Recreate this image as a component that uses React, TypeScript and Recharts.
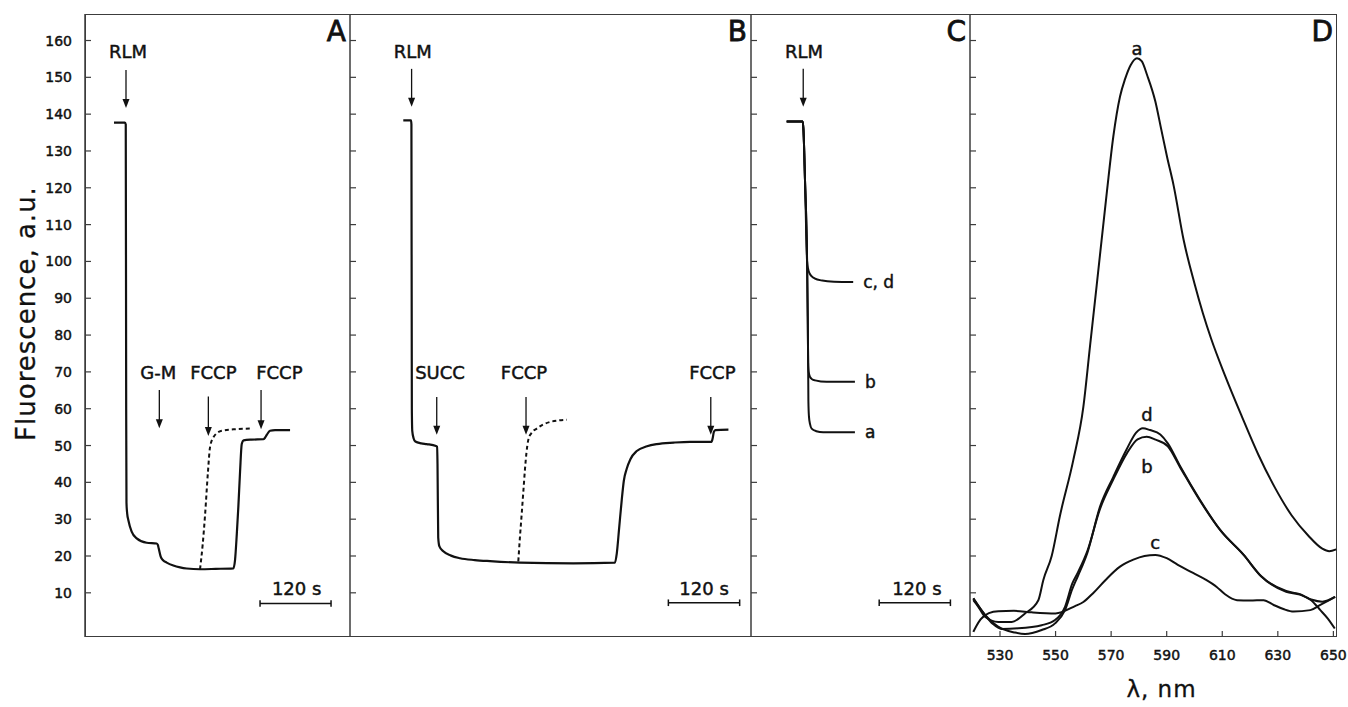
import React from 'react';
import { LineChart, Line, XAxis, YAxis, ReferenceLine, ReferenceDot } from 'recharts';

const INK = '#111';
const FRAME = '#3c3c3c';
const FONT = '"DejaVu Sans", Verdana, sans-serif';

// shared fluorescence scale (a.u.)
const fluorDomain = [-2, 167.2];
const fluorTicks = [10, 20, 30, 40, 50, 60, 70, 80, 90, 100, 110, 120, 130, 140, 150, 160];

// time axes of the kinetic panels, seconds
const timeDomainA = [0, 446];
const timeDomainB = [0, 675];
const timeDomainC = [0, 369];

// panel A: [t, fluorescence]
const traceA = [
  [48.8, 137.7], [67.3, 137.7], [68.6, 137.2], [69.3, 60], [69.8, 34.5], [71, 31.5], [72.9, 29.8],
  [78.5, 26.6], [87, 24.8], [103.9, 23.6], [120.7, 23.4], [122.6, 23.0], [124, 22.1], [127.4, 19.8],
  [131, 18.9], [137.5, 18.2], [148.7, 17.4], [160, 16.9], [171.2, 16.6], [193.6, 16.4], [220, 16.5],
  [249.7, 16.65], [252.5, 18.9], [255.5, 26], [258.1, 33.4], [261, 43], [263.8, 50.4], [267, 51.4],
  [280, 51.6], [300.2, 51.7], [302.5, 52.0], [305.9, 52.9], [311.4, 54.0], [320, 54.2], [345.1, 54.2],
];
const dashedA = [
  [193.6, 16.4], [198, 23], [202, 31], [207, 43], [210.4, 49.5], [216.7, 52.4], [230, 54.0], [250, 54.4], [277.8, 54.6],
];

// panel B
const traceB = [
  [89.7, 138.3], [102.7, 138.3], [103.4, 137.2], [104.1, 60], [104.8, 54], [107, 52], [110, 51.1],
  [120, 50.6], [129.1, 50.4], [144.8, 49.9], [146.5, 49.7], [147.3, 45], [148.5, 25], [150.5, 22.6],
  [157, 21.3], [170, 20.1], [185.2, 19.4], [210, 18.9], [235.7, 18.6], [286.2, 18.2], [375.9, 18.0],
  [446.1, 18.2], [449, 20.6], [453, 27.5], [457.4, 35.2], [461, 40.5], [465.8, 43.7], [472, 46.3],
  [482.7, 48.5], [500, 49.8], [516.3, 50.4], [545, 50.8], [572.4, 51.0], [608.5, 51.0], [610.5, 52.0],
  [612.5, 53.7], [615, 54.2], [637, 54.3],
];
const dashedB = [
  [283.3, 18.5], [286, 25], [289.1, 31.6], [292, 38], [294.6, 43.7], [297, 48], [300.2, 51.6],
  [305, 53.3], [314.3, 54.6], [325, 55.7], [336.7, 56.4], [350, 56.8], [364.8, 57.0],
];

// panel C
const traceCcd = [
  [60.1, 138], [87, 138], [88.3, 136], [91, 122], [94.5, 100], [96.2, 98], [98.5, 96.8], [102, 96],
  [107, 95.4], [120, 94.8], [140, 94.5], [172.2, 94.4],
];
const traceCb = [
  [60.1, 138], [87, 138], [88.3, 136], [91, 122], [94.5, 100], [95.6, 85], [96.3, 72.5], [97.2, 70],
  [99.5, 68.6], [103, 68.0], [108, 67.7], [127.4, 67.3], [175.1, 67.3],
];
const traceCa = [
  [60.1, 138], [87, 138], [88.3, 136], [91, 122], [94.5, 100], [95.6, 85], [96.3, 72.5], [96.7, 62],
  [97.6, 58], [99.5, 55.8], [102.2, 54.6], [110, 53.9], [121.7, 53.6], [175.1, 53.6],
];

// panel D: emission spectra [nm, fluorescence]
const wavelengthDomain = [519.2, 651.3];
const wavelengthTicks = [530, 550, 570, 590, 610, 630, 650];
const spectrumA = [
  [520.4, 8.0], [522.2, 6.2], [524.6, 3.5], [529.4, 2.1], [534.2, 2.1], [539, 4.4], [543.8, 8.0],
  [545.6, 13.5], [548.6, 20], [551.6, 31], [556.4, 46.1], [560, 60.5], [562.4, 77], [564.8, 93.5],
  [568.4, 118.4], [570.8, 134], [573.2, 144.8], [575, 149.5], [577, 153.3], [579.3, 155.2],
  [581, 154.4], [583, 150.5], [585.9, 143.5], [588, 136], [590.1, 128.5], [592.5, 120.6],
  [596.1, 105.8], [600, 94], [603, 86], [606, 79], [611, 69], [617, 58], [623, 47.5], [629, 38.5],
  [635, 31], [641, 25.5], [646, 22], [648.5, 21.3], [651, 21.8],
];
const spectrumB = [
  [520.4, 8.5], [524.6, 4.0], [527.5, 1.5], [530.6, 0.2], [536.5, 0.35], [545, 1.2], [549.8, 2.6],
  [553.4, 6.2], [556, 12.5], [558, 15.5], [561.5, 21.5], [566, 32.8], [570.8, 40.8], [575.6, 47.8],
  [579.5, 51.7], [582.8, 52.4], [586, 51.6], [590.4, 49.8], [594.9, 44.0], [602, 35.0], [609.3, 27],
  [617.7, 20.3], [624, 14.5], [633, 10.5], [638, 9.6], [642, 8.2], [646, 7.6], [650.5, 8.9],
];
const spectrumC = [
  [520.4, -0.6], [521.5, 1], [523, 2.8], [526, 4.5], [529.4, 5.0], [535, 5.1], [541.4, 4.7], [550, 4.4],
  [557, 6.4], [560, 7.5], [563.5, 9.9], [568, 13.5], [573.2, 17.1], [578, 19], [582, 20], [585.9, 20.3],
  [590, 19.4], [594, 17.6], [599.5, 15.4], [604, 13.6], [608, 11.6], [611, 9.6], [615.3, 8.0], [620, 7.9],
  [624.9, 8.0], [628.5, 6.7], [632, 5.6], [635.7, 4.9], [641.7, 5.3], [645.3, 6.7], [650.7, 8.9],
];
const spectrumD = [
  [520.4, 8.5], [524.6, 4.0], [529.3, 0.8], [535.4, -0.8], [539, -1.2], [545, -0.1], [549.8, 1.7],
  [553.4, 5.3], [556, 11], [558, 14.5], [561.5, 21], [566, 33.4], [570.8, 41.5], [575.6, 49], [579, 53.5],
  [581.4, 54.7], [584, 54.2], [587.7, 53], [590.4, 50.6], [594.9, 44.3], [602, 35.2], [609.3, 27],
  [617.7, 20.3], [624, 14.5], [633, 10.3], [638, 9.5], [642, 8], [645.3, 5.3], [648, 3], [650.5, 0.3],
];

// additions: time of addition, arrow tip / tail level, label anchor
const additionsA = [
  { text: 'RLM', t: 69, tip: 141.7, tail: 152, labelT: 72.4, labelV: 157 },
  { text: 'G-M', t: 125.1, tip: 54.7, tail: 65.1, labelT: 123.4, labelV: 69.8 },
  { text: 'FCCP', t: 207.6, tip: 52.6, tail: 63.3, labelT: 216, labelV: 69.8 },
  { text: 'FCCP', t: 296.3, tip: 54.4, tail: 65.1, labelT: 327.1, labelV: 69.8 },
];
const additionsB = [
  { text: 'RLM', t: 103.7, tip: 142, tail: 152.3, labelT: 105.6, labelV: 157 },
  { text: 'SUCC', t: 146, tip: 52.9, tail: 63.2, labelT: 151.5, labelV: 69.8 },
  { text: 'FCCP', t: 296.3, tip: 52.9, tail: 63.2, labelT: 292.9, labelV: 69.8 },
  { text: 'FCCP', t: 607.3, tip: 52.9, tail: 63.2, labelT: 609.9, labelV: 69.8 },
];
const additionsC = [
  { text: 'RLM', t: 88, tip: 142, tail: 152.3, labelT: 89.2, labelV: 157 },
];

// 120 s scale bars
const scaleBarA = { t0: 294.6, t1: 414.1, v: 7.1, labelT: 356.2, labelV: 11.2 };
const scaleBarB = { t0: 535.9, t1: 655.9, v: 7.3, labelT: 596, labelV: 11.3 };
const scaleBarC = { t0: 216, t1: 336, v: 7.3, labelT: 279.5, labelV: 11.3 };

// curve labels
const curveLabelsC = [
  { text: 'c, d', t: 172.2, v: 94.4 },
  { text: 'b', t: 175.1, v: 67.3 },
  { text: 'a', t: 175.1, v: 53.6 },
];
const curveLabelsD = [
  { text: 'a', nm: 579.3, v: 157.7 },
  { text: 'd', nm: 582.9, v: 58.3 },
  { text: 'b', nm: 582.9, v: 44.3 },
  { text: 'c', nm: 585.9, v: 23.6 },
];

const toPts = (rows: number[][]) => rows.map(([t, v]) => ({ t, v }));

const textStyle = { fontFamily: FONT, fill: INK, stroke: INK, strokeWidth: 0.45 };

const YTickLabeled = ({ x, y, payload }: any) => (
  <g>
    <line x1={x} x2={x + 6} y1={y} y2={y} stroke={FRAME} strokeWidth={1.2} />
    <text x={x - 13} y={y} textAnchor="end" dominantBaseline="central" fontSize={14} {...textStyle}>
      {payload.value}
    </text>
  </g>
);
const YTickMark = ({ x, y }: any) => (
  <line x1={x} x2={x + 6} y1={y} y2={y} stroke={FRAME} strokeWidth={1.2} />
);
const XTickNm = ({ x, y, payload }: any) => (
  <g>
    <line x1={x} x2={x} y1={y} y2={y - 6} stroke={FRAME} strokeWidth={1.2} />
    <text x={x} y={y + 18} textAnchor="middle" dominantBaseline="central" fontSize={14} {...textStyle}>
      {payload.value}
    </text>
  </g>
);

const YTitle = (props: any) => {
  const vb = props.viewBox || { x: 0, y: 14, width: 85, height: 623 };
  const cx = 26;
  const cy = vb.y + vb.height / 2 - 12;
  return (
    <text x={cx} y={cy} transform={`rotate(-90 ${cx} ${cy})`} textAnchor="middle" dominantBaseline="central"
      fontSize={26} letterSpacing={1} {...textStyle} strokeWidth={0.3}>
      Fluorescence, a.u.
    </text>
  );
};
const XTitle = (props: any) => {
  const vb = props.viewBox || { x: 970, y: 637, width: 367, height: 70 };
  return (
    <text x={vb.x + vb.width / 2 + 8} y={vb.y + vb.height - 10} textAnchor="middle" fontSize={23} letterSpacing={1}
      {...textStyle} strokeWidth={0.3}>
      λ, nm
    </text>
  );
};

const textAt = (text: string, size: number, anchor: string, dx = 0, dy = 0) => (p: any) => (
  <text x={p.cx + dx} y={p.cy + dy} textAnchor={anchor} dominantBaseline="central" fontSize={size} {...textStyle}>
    {text}
  </text>
);

const ArrowHead = (p: any) => (
  <path d={`M${p.cx},${p.cy} L${p.cx - 3.5},${p.cy - 9} L${p.cx + 3.5},${p.cy - 9} Z`} fill={INK} />
);

const additionMarks = (list: typeof additionsA, key: string) =>
  list.flatMap((a, i) => [
    <ReferenceLine key={`${key}s${i}`} segment={[{ x: a.t, y: a.tail }, { x: a.t, y: a.tip + 1.5 }]}
      stroke={INK} strokeWidth={1.3} ifOverflow="visible" />,
    <ReferenceDot key={`${key}h${i}`} x={a.t} y={a.tip} r={1} ifOverflow="visible" shape={ArrowHead} />,
    <ReferenceDot key={`${key}l${i}`} x={a.labelT} y={a.labelV} r={1} ifOverflow="visible"
      shape={textAt(a.text, 18, 'middle')} />,
  ]);

const scaleBarMarks = (b: typeof scaleBarA, key: string) => [
  <ReferenceLine key={`${key}m`} segment={[{ x: b.t0, y: b.v }, { x: b.t1, y: b.v }]} stroke={INK}
    strokeWidth={1.5} ifOverflow="visible" />,
  <ReferenceLine key={`${key}l`} segment={[{ x: b.t0, y: b.v - 0.9 }, { x: b.t0, y: b.v + 0.9 }]} stroke={INK}
    strokeWidth={1.5} ifOverflow="visible" />,
  <ReferenceLine key={`${key}r`} segment={[{ x: b.t1, y: b.v - 0.9 }, { x: b.t1, y: b.v + 0.9 }]} stroke={INK}
    strokeWidth={1.5} ifOverflow="visible" />,
  <ReferenceDot key={`${key}t`} x={b.labelT} y={b.labelV} r={1} ifOverflow="visible"
    shape={textAt('120 s', 18, 'middle')} />,
];

const panelLetter = (letter: string, xMax: number) => (
  <ReferenceDot key={`letter${letter}`} x={xMax} y={fluorDomain[1]} r={1} ifOverflow="visible"
    shape={(p: any) => (
      <text x={p.cx - 4} y={p.cy + 27} textAnchor="end" fontSize={28} {...textStyle} strokeWidth={0.8}>{letter}</text>
    )} />
);

const H = 707;
const MARGIN = { top: 14, right: 0, bottom: 0, left: 0 };

const lineProps = {
  dataKey: 'v',
  type: 'monotone' as const,
  stroke: INK,
  strokeWidth: 2.2,
  dot: false,
  activeDot: false,
  isAnimationActive: false,
};

// 1px wide axis: only the divider line and the inward tick marks
const sideAxis = (
  <YAxis type="number" domain={fluorDomain} ticks={fluorTicks} allowDataOverflow width={1} tickSize={0}
    tickMargin={0} tickLine={false} axisLine={{ stroke: FRAME, strokeWidth: 1.5 }} tick={<YTickMark />} interval={0} />
);

export default function App() {
  return (
    <div style={{ position: 'absolute', left: 0, top: 0, width: 1348, height: H, background: '#fff' }}>
      <div style={{ position: 'absolute', left: 85, top: 14, width: 1252, height: 623, boxSizing: 'border-box',
        border: `1.5px solid ${FRAME}` }} />

      <div style={{ position: 'absolute', left: 0, top: 0 }}>
        <LineChart width={350} height={H} margin={MARGIN}>
          <XAxis type="number" dataKey="t" domain={timeDomainA} allowDataOverflow height={70} tick={false}
            axisLine={false} tickLine={false} />
          <YAxis type="number" domain={fluorDomain} ticks={fluorTicks} allowDataOverflow width={85} tickSize={0}
            tickMargin={0} tickLine={false} axisLine={{ stroke: FRAME, strokeWidth: 1.5 }} tick={<YTickLabeled />}
            interval={0} label={{ content: YTitle }} />
          <Line data={toPts(traceA)} {...lineProps} />
          <Line data={toPts(dashedA)} {...lineProps} strokeWidth={2} strokeDasharray="4 3" />
          {additionMarks(additionsA, 'a')}
          {scaleBarMarks(scaleBarA, 'sa')}
          {panelLetter('A', timeDomainA[1])}
        </LineChart>
      </div>

      <div style={{ position: 'absolute', left: 349, top: 0 }}>
        <LineChart width={402} height={H} margin={MARGIN}>
          <XAxis type="number" dataKey="t" domain={timeDomainB} allowDataOverflow height={70} tick={false}
            axisLine={false} tickLine={false} />
          {sideAxis}
          <Line data={toPts(traceB)} {...lineProps} />
          <Line data={toPts(dashedB)} {...lineProps} strokeWidth={2} strokeDasharray="4 3" />
          {additionMarks(additionsB, 'b')}
          {scaleBarMarks(scaleBarB, 'sb')}
          {panelLetter('B', timeDomainB[1])}
        </LineChart>
      </div>

      <div style={{ position: 'absolute', left: 750, top: 0 }}>
        <LineChart width={220} height={H} margin={MARGIN}>
          <XAxis type="number" dataKey="t" domain={timeDomainC} allowDataOverflow height={70} tick={false}
            axisLine={false} tickLine={false} />
          {sideAxis}
          <Line data={toPts(traceCcd)} {...lineProps} strokeWidth={2} />
          <Line data={toPts(traceCb)} {...lineProps} strokeWidth={2} />
          <Line data={toPts(traceCa)} {...lineProps} strokeWidth={2} />
          {additionMarks(additionsC, 'c')}
          {curveLabelsC.map((c, i) => (
            <ReferenceDot key={`cl${i}`} x={c.t} y={c.v} r={1} ifOverflow="visible" shape={textAt(c.text, 17, 'start', 10)} />
          ))}
          {scaleBarMarks(scaleBarC, 'sc')}
          {panelLetter('C', timeDomainC[1])}
        </LineChart>
      </div>

      <div style={{ position: 'absolute', left: 969, top: 0 }}>
        <LineChart width={380} height={H} margin={{ ...MARGIN, right: 12 }}>
          <XAxis type="number" dataKey="t" domain={wavelengthDomain} ticks={wavelengthTicks} allowDataOverflow
            height={70} tickSize={0} tickMargin={0} tickLine={false} axisLine={false} tick={<XTickNm />} interval={0}
            label={{ content: XTitle }} />
          {sideAxis}
          <Line data={toPts(spectrumA)} {...lineProps} strokeWidth={2} />
          <Line data={toPts(spectrumD)} {...lineProps} strokeWidth={2} />
          <Line data={toPts(spectrumB)} {...lineProps} strokeWidth={2} />
          <Line data={toPts(spectrumC)} {...lineProps} strokeWidth={2} />
          {curveLabelsD.map((c, i) => (
            <ReferenceDot key={`dl${i}`} x={c.nm} y={c.v} r={1} ifOverflow="visible" shape={textAt(c.text, 18, 'middle')} />
          ))}
          {panelLetter('D', wavelengthDomain[1])}
        </LineChart>
      </div>
    </div>
  );
}
